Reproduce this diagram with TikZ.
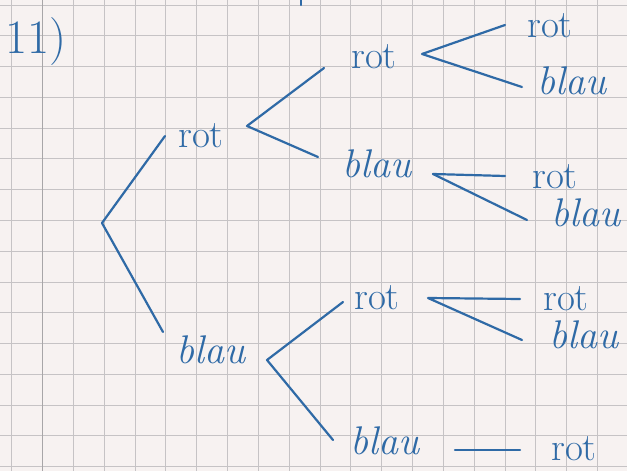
\documentclass[tikz,border=0pt]{standalone}
\definecolor{paper}{HTML}{F7F2F1}
\definecolor{gridc}{HTML}{C6C3C5}
\definecolor{ink}{HTML}{2F6AA6}
\tikzset{
  lbl/.style={text=ink, inner sep=0pt, font=\fontsize{39}{41}\selectfont},
  lblc/.style={text=ink, inner sep=0pt, font=\fontsize{40}{42}\selectfont\itshape},
  pen/.style={draw=ink, line width=2.2pt, line cap=round, line join=round}
}
\begin{document}
\begin{tikzpicture}[x=1pt,y=-1pt]
\fill[paper] (0,0) rectangle (627,471);
\useasboundingbox (0,0) rectangle (627,471);
% grid
\foreach \k in {0,...,20} {\draw[gridc, line width=0.9pt] ({11.7+30.83*\k},0) -- ({11.7+30.83*\k},471);}
\foreach \k in {0,...,15} {\draw[gridc, line width=0.9pt] (0,{5+30.78*\k}) -- (627,{5+30.78*\k});}
\draw[gridc!85!black, line width=1.4pt] (42.5,0) -- (42.5,471);
% title
\node[lbl, font=\fontsize{48}{50}\selectfont] (title) at (36,42) {11)};
% nodes
\node[lbl]  (r1)  at (201,136) {rot};
\node[lblc] (b1)  at (211,350) {blau};
\node[lbl]  (rr)  at (374,57)  {rot};
\node[lblc] (rb)  at (377,164) {blau};
\node[lbl]  (br)  at (377,298) {rot};
\node[lblc] (bb)  at (385,441) {blau};
\node[lbl]  (rrr) at (550,26)  {rot};
\node[lblc] (rrb) at (572,81)  {blau};
\node[lbl]  (rbr) at (555,177) {rot};
\node[lblc] (rbb) at (586,213) {blau};
\node[lbl]  (brr) at (566,299) {rot};
\node[lblc] (brb) at (584,335) {blau};
\node[lbl]  (bbr) at (574,449) {rot};
% fork points and line ends
\coordinate (root) at (102,223);
\coordinate (r1in) at (165,136);
\coordinate (b1in) at (163,332);
\coordinate (r1f) at (247,126);
\coordinate (rrin) at (324,68);
\coordinate (rbin) at (318,157);
\coordinate (rrf) at (422,54);
\coordinate (rrrin) at (505,25);
\coordinate (rrbin) at (522,87);
\coordinate (rbf) at (433,174);
\coordinate (rbrin) at (505,176);
\coordinate (rbbin) at (527,220);
\coordinate (b1f) at (267,360);
\coordinate (brin) at (343,302);
\coordinate (bbin) at (333,440);
\coordinate (brf) at (428,298);
\coordinate (brrin) at (520,299);
\coordinate (brbin) at (522,340);
\coordinate (bbf) at (455,450);
\coordinate (bbrin) at (520,450);
\coordinate (topa) at (301,0);
\coordinate (topb) at (301,5);
% connectors
\draw[pen] (r1in) -- (root) -- (b1in);
\draw[pen] (rrin) -- (r1f) -- (rbin);
\draw[pen] (rrrin) -- (rrf) -- (rrbin);
\draw[pen] (rbrin) -- (rbf);
\draw[pen] (rbf) -- (rbbin);
\draw[pen] (brin) -- (b1f) -- (bbin);
\draw[pen] (brrin) -- (brf) -- (brbin);
\draw[pen] (bbf) -- (bbrin);
\draw[pen] (topa) -- (topb);
\end{tikzpicture}
\end{document}
